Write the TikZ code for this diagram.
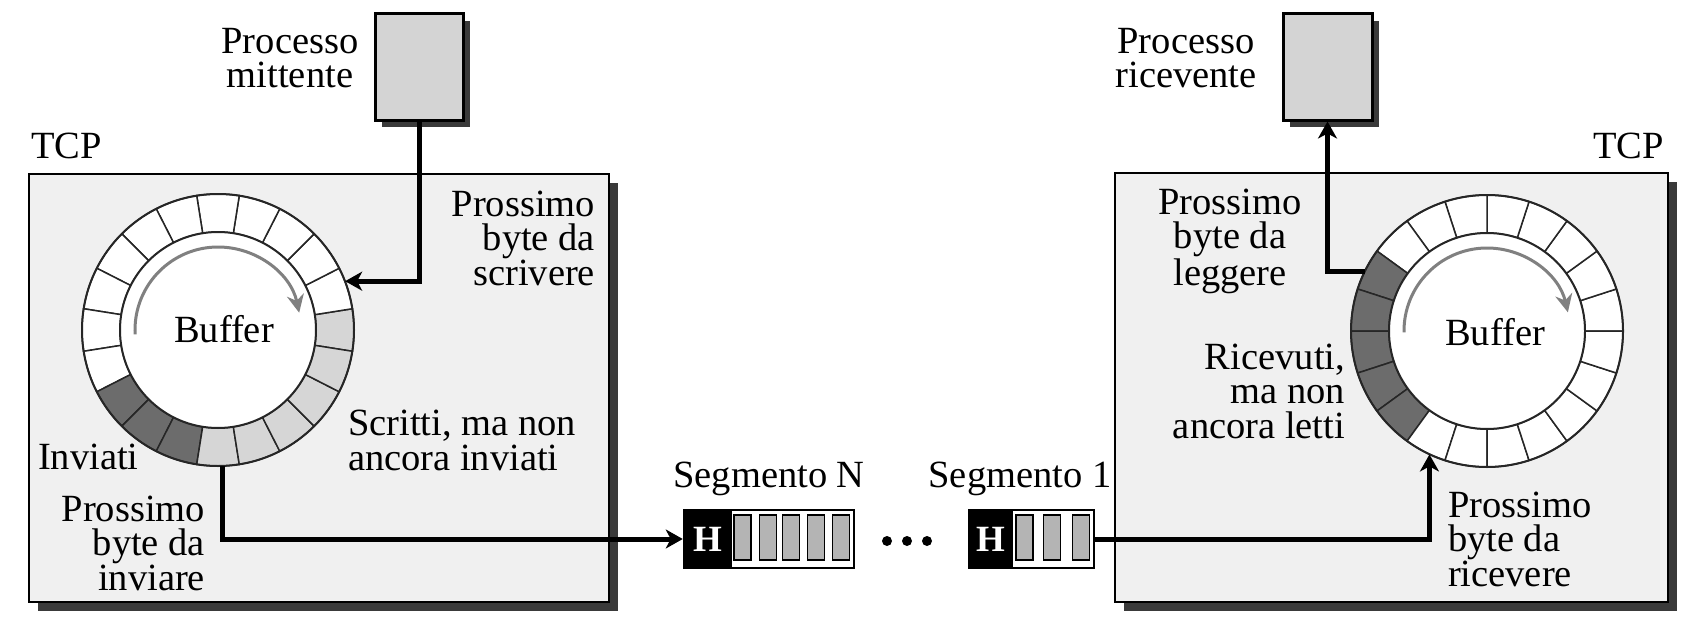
\documentclass[tikz,border=0pt]{standalone}
\usepackage{fontspec}
\setmainfont{Liberation Serif}
\usetikzlibrary{arrows.meta,shadows}
\definecolor{boxgray}{HTML}{F0F0F0}
\definecolor{procgray}{HTML}{D4D4D4}
\definecolor{shadowgray}{HTML}{3A3A3A}
\definecolor{darkseg}{HTML}{6C6C6C}
\definecolor{lightseg}{HTML}{D6D6D6}
\definecolor{arcgray}{HTML}{808080}
\definecolor{cellgray}{HTML}{B4B4B4}
\begin{document}
\begin{tikzpicture}[x=1pt,y=-1pt,
  lbl/.style={font=\fontsize{38.5}{34.5}\selectfont, inner sep=0pt, outer sep=0pt},
  myshadow/.style={drop shadow={shadow xshift=#1, shadow yshift=-#1, fill=shadowgray, opacity=1}},
  tcpbox/.style={draw=black, line width=2.6pt, fill=boxgray, inner sep=0pt, myshadow=9pt},
  procbox/.style={draw=black, line width=3pt, fill=procgray, inner sep=0pt, minimum width=88pt, minimum height=106pt, myshadow=7pt},
  ringnode/.style={circle, inner sep=0pt, minimum size=272pt, draw=none},
  conn/.style={line width=5pt},
  tip/.style={-{Stealth[length=17pt,width=19pt,inset=5pt]}},
  cell/.style={draw=black, line width=1.5pt, fill=cellgray},
  segbox/.style={draw=black, line width=2.5pt, fill=white, inner sep=0pt, minimum height=58pt},
  hlabel/.style={text=white, font=\bfseries\fontsize{37}{37}\selectfont, inner sep=0pt},
  segline/.style={draw=black!85, line width=1.5pt},
  dot/.style={circle, fill=black, inner sep=0pt, minimum size=10pt},
  buffarrow/.style={arcgray, line width=3pt, -{Stealth[length=18pt,width=17pt]}},
]
\useasboundingbox (0,0) rectangle (1708,626);
\fill[white] (0,0) rectangle (1708,626);

% TCP boxes
\node[tcpbox, minimum width=580pt, minimum height=428pt] (tcpL) at (319,388) {};
\node[tcpbox, minimum width=553pt, minimum height=429pt] (tcpR) at (1391.5,387.5) {};
\node[lbl, anchor=base west] (tcpLlbl) at (31,158) {TCP};
\node[lbl, anchor=base east] (tcpRlbl) at (1664,158) {TCP};

% process boxes
\node[procbox] (pm) at (419,67) {};
\node[procbox, minimum width=89pt] (pr) at (1327.5,67) {};
\node[lbl, align=center, anchor=base] (pmlbl) at (290,88) {Processo\\mittente};
\node[lbl, align=center, anchor=base] (prlbl) at (1186,88) {Processo\\ricevente};

% left ring
\node[ringnode] (lring) at (218,330) {};
\begin{scope}[shift={(218,330)}, yscale=-1]
  \foreach \k/\c in {0/lightseg,1/white,2/white,3/white,4/white,5/white,6/white,7/white,8/white,9/white,10/white,11/white,12/darkseg,13/darkseg,14/darkseg,15/lightseg,16/lightseg,17/lightseg,18/lightseg,19/lightseg}{
    \pgfmathsetmacro\a{18*\k-9}
    \pgfmathsetmacro\b{18*\k+9}
    \filldraw[fill=\c, segline] (\a:98) arc[start angle=\a, end angle=\b, radius=98] -- (\b:136) arc[start angle=\b, end angle=\a, radius=136] -- cycle;
  }
  \filldraw[fill=white, draw=black!85, line width=2pt] (0,0) circle[radius=98];
  \draw[black!85, line width=2pt] (0,0) circle[radius=136];
  \draw[buffarrow] (183:83) arc[start angle=183, end angle=12, radius=83];
\end{scope}
\node[lbl] (bufL) at (224,329) {Buffer};

% right ring
\node[ringnode] (rring) at (1487,331) {};
\begin{scope}[shift={(1487,331)}, yscale=-1]
  \foreach \k/\c in {0/white,1/white,2/white,3/white,4/white,5/white,6/white,7/white,8/darkseg,9/darkseg,10/darkseg,11/darkseg,12/darkseg,13/white,14/white,15/white,16/white,17/white,18/white,19/white}{
    \pgfmathsetmacro\a{18*\k}
    \pgfmathsetmacro\b{18*\k+18}
    \filldraw[fill=\c, segline] (\a:98) arc[start angle=\a, end angle=\b, radius=98] -- (\b:136) arc[start angle=\b, end angle=\a, radius=136] -- cycle;
  }
  \filldraw[fill=white, draw=black!85, line width=2pt] (0,0) circle[radius=98];
  \draw[black!85, line width=2pt] (0,0) circle[radius=136];
  \draw[buffarrow] (181:83) arc[start angle=181, end angle=13, radius=83];
\end{scope}
\node[lbl] (bufR) at (1495,332) {Buffer};

% labels left
\node[lbl, align=right, anchor=base east] (scriv) at (595,285) {Prossimo\\byte da\\scrivere};
\node[lbl, align=left, anchor=base west] (scritti) at (348,470) {Scritti, ma non\\ancora inviati};
\node[lbl, anchor=base west] (inviati) at (38,469) {Inviati};
\node[lbl, align=right, anchor=base east] (inviare) at (205,590) {Prossimo\\byte da\\inviare};

% labels right
\node[lbl, align=center, anchor=base] (leggere) at (1230,285) {Prossimo\\byte da\\leggere};
\node[lbl, align=right, anchor=base east] (ricevuti) at (1345,438) {Ricevuti,\\ma non\\ancora letti};
\node[lbl, align=left, anchor=base west] (ricevere) at (1448,586) {Prossimo\\byte da\\ricevere};

% segments
\node[lbl, anchor=base] (segNlbl) at (769,487) {Segmento N};
\node[lbl, anchor=base] (seg1lbl) at (1020,487) {Segmento 1};
\node[segbox, minimum width=170pt] (segN) at (769,539) {};
\fill[black] (684,510) rectangle (732,568);
\foreach \x in {734,759.5,782.5,807.5,832.5} \draw[cell] (\x,515) rectangle ++(17,45);
\draw[black, line width=2.5pt] (684,510) rectangle (854,568);
\node[hlabel] (hN) at (708,539) {H};

\node[segbox, minimum width=125pt] (seg1) at (1031.5,539) {};
\fill[black] (969,510) rectangle (1013,568);
\foreach \x in {1016,1043.5,1072.5} \draw[cell] (\x,515) rectangle ++(17,45);
\draw[black, line width=2.5pt] (969,510) rectangle (1094,568);
\node[hlabel] (h1) at (991,539) {H};

\node[dot] (d1) at (887,541) {};
\node[dot] (d2) at (907,541) {};
\node[dot] (d3) at (927,541) {};

% connectors
\draw[conn,tip] (pm.south) |- (lring.21);
\draw[conn,tip] (rring.154) -| (pr.south);
\draw[conn,tip] (lring.-88) |- (segN.west);
\draw[conn,tip] (seg1.east) -| (rring.245.7);
\end{tikzpicture}
\end{document}
